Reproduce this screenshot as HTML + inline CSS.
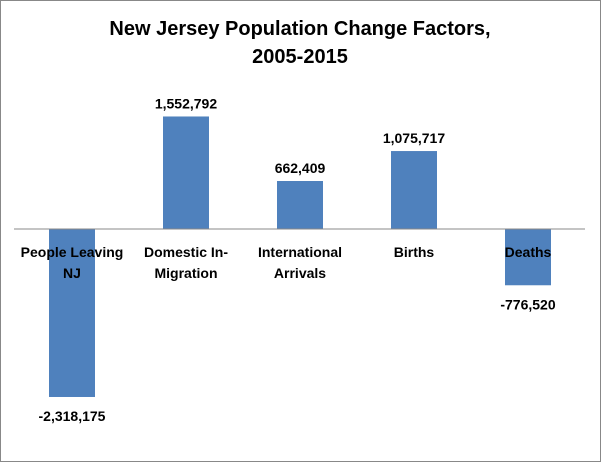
<!DOCTYPE html>
<html><head><meta charset="utf-8"><style>
html,body{margin:0;padding:0;background:#fff;}
svg{display:block;font-family:"Liberation Sans",sans-serif;}
</style></head><body>
<svg id="c" width="601" height="462">
<rect x="0.5" y="0.5" width="600" height="461" fill="#fff" stroke="#888"/>
<text x="300" y="35" text-anchor="middle" font-size="20" font-weight="bold" fill="#000">New Jersey Population Change Factors,</text>
<text x="300" y="63" text-anchor="middle" font-size="20" font-weight="bold" fill="#000">2005-2015</text>
<g id="bars"></g>
<line x1="14" y1="229" x2="585" y2="229" stroke="#888" stroke-width="1"/>
<g id="labels"></g>
</svg>
<script>
const categories = [["People Leaving","NJ"],["Domestic In-","Migration"],["International","Arrivals"],["Births"],["Deaths"]];
const values = [-2318175, 1552792, 662409, 1075717, -776520];
const valueLabels = ["-2,318,175","1,552,792","662,409","1,075,717","-776,520"];
const NS="http://www.w3.org/2000/svg";
const x0=15, bandW=114, zeroY=229, pxPer=13800, barW=46;
function xCenter(i){return x0+bandW*i+bandW/2;}
function yScale(v){return zeroY - v/pxPer;}
const gb=document.getElementById('bars'), gl=document.getElementById('labels');
values.forEach((v,i)=>{
  const cx=xCenter(i), y=yScale(v);
  const r=document.createElementNS(NS,'rect');
  r.setAttribute('x',cx-barW/2); r.setAttribute('width',barW);
  r.setAttribute('y',Math.min(y,zeroY)); r.setAttribute('height',Math.abs(y-zeroY));
  r.setAttribute('fill','#4f81bd');
  
  
  gb.appendChild(r);
  const t=document.createElementNS(NS,'text');
  t.setAttribute('x',cx); t.setAttribute('y', v>=0 ? y-8 : y+24);
  t.setAttribute('text-anchor','middle'); t.setAttribute('font-size','14'); t.setAttribute('font-weight','bold');
  t.textContent=valueLabels[i];
  
  
  gl.appendChild(t);
  categories[i].forEach((line,j)=>{
    const c=document.createElementNS(NS,'text');
    c.setAttribute('x',cx); c.setAttribute('y',257+j*21);
    c.setAttribute('text-anchor','middle'); c.setAttribute('font-size','14'); c.setAttribute('font-weight','bold');
    c.textContent=line;
    
    
    gl.appendChild(c);
  });
});
</script>
</body></html>
